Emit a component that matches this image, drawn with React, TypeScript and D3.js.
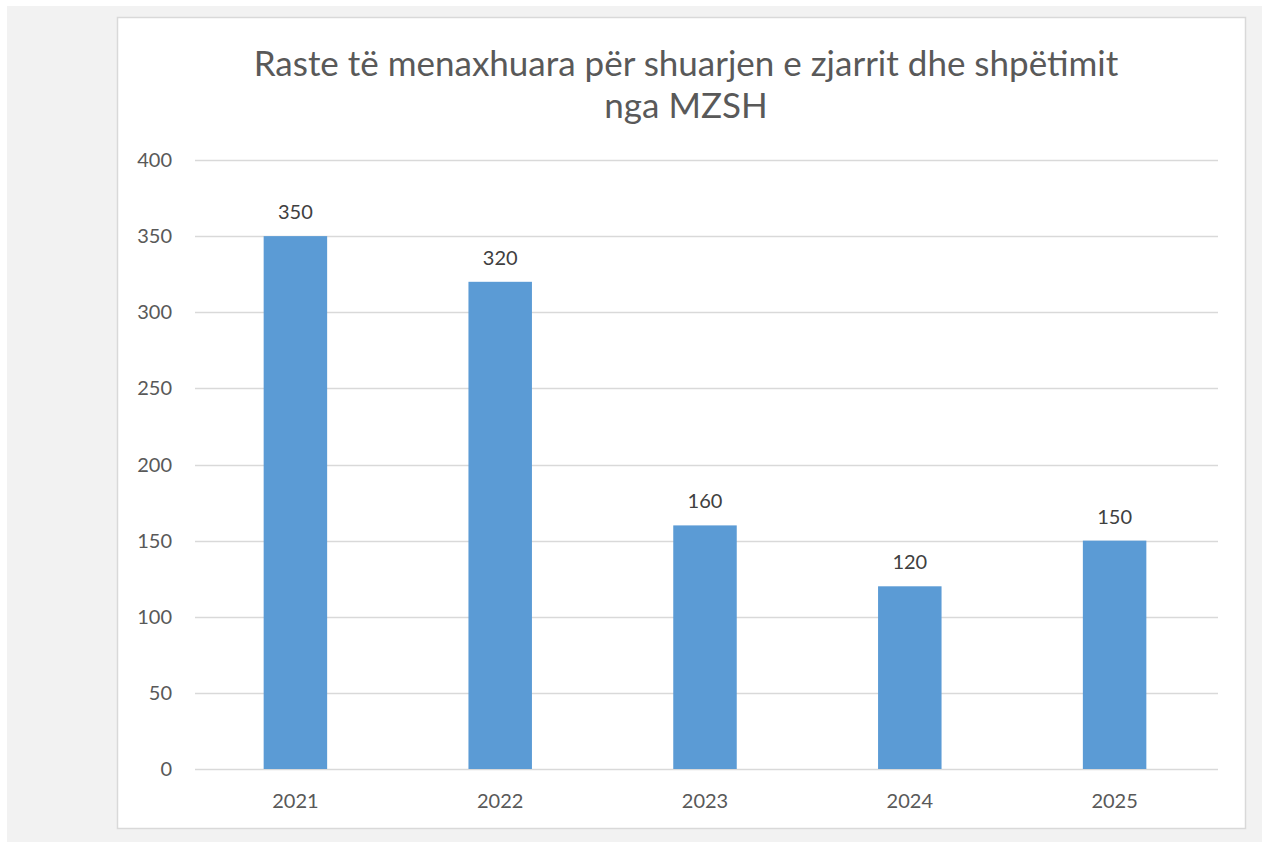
import { useEffect, useRef } from 'react'
import * as d3 from 'd3'

const years = ['2021', '2022', '2023', '2024', '2025']
const cases = [350, 320, 160, 120, 150]
const yTicks = [0, 50, 100, 150, 200, 250, 300, 350, 400]
const titleLines = ['Raste të menaxhuara për shuarjen e zjarrit dhe shpëtimit', 'nga MZSH']

export default function App() {
  const svgRef = useRef<SVGSVGElement>(null)
  const width = 1262
  const height = 842

  useEffect(() => {
    if (!svgRef.current) return
    const svg = d3.select(svgRef.current)
    svg.selectAll('*').remove()

    const font = 'Lato, "Open Sans", sans-serif'
    const textColor = '#595959'

    // page backdrop and chart area
    svg.append('rect')
      .attr('x', 7).attr('y', 6)
      .attr('width', width - 7).attr('height', height - 6)
      .attr('fill', '#f2f2f2')
    svg.append('rect')
      .attr('x', 117.5).attr('y', 17.5)
      .attr('width', 1128).attr('height', 811)
      .attr('fill', '#ffffff')
      .attr('stroke', '#d9d9d9')
      .attr('stroke-width', 1.5)

    const plot = { left: 195, right: 1218, top: 160, bottom: 769 }

    const x = d3.scaleBand()
      .domain(years)
      .range([plot.left - 2, plot.right - 1])
      .paddingInner(0.69)
      .paddingOuter(0.345)

    const y = d3.scaleLinear()
      .domain([0, 400])
      .range([plot.bottom, plot.top])

    // Title
    svg.append('text')
      .attr('x', 686)
      .attr('y', 76)
      .attr('text-anchor', 'middle')
      .style('font-family', font)
      .style('font-size', '35px')
      .style('fill', textColor)
      .selectAll('tspan')
      .data(titleLines)
      .enter().append('tspan')
      .attr('x', 686)
      .attr('dy', (d, i) => (i === 0 ? 0 : 42))
      .text(d => d)

    // Gridlines
    svg.append('g')
      .selectAll('line')
      .data(yTicks)
      .enter().append('line')
      .attr('x1', plot.left)
      .attr('x2', plot.right)
      .attr('y1', d => Math.round(y(d)) + 0.5)
      .attr('y2', d => Math.round(y(d)) + 0.5)
      .attr('stroke', '#d9d9d9')
      .attr('stroke-width', 1.5)

    // Y labels
    svg.append('g')
      .selectAll('text')
      .data(yTicks)
      .enter().append('text')
      .attr('x', 172)
      .attr('y', d => y(d))
      .attr('dy', '0.35em')
      .attr('text-anchor', 'end')
      .style('font-family', font)
      .style('font-size', '20px')
      .style('fill', textColor)
      .text(d => d)

    // Bars
    svg.append('g')
      .selectAll('rect')
      .data(cases)
      .enter().append('rect')
      .attr('x', (d, i) => x(years[i]) || 0)
      .attr('width', x.bandwidth())
      .attr('y', d => y(d))
      .attr('height', d => plot.bottom - y(d))
      .attr('fill', '#5b9bd5')

    // Value labels
    svg.append('g')
      .selectAll('text')
      .data(cases)
      .enter().append('text')
      .attr('x', (d, i) => (x(years[i]) || 0) + x.bandwidth() / 2)
      .attr('y', d => y(d) - 17)
      .attr('text-anchor', 'middle')
      .style('font-family', font)
      .style('font-size', '20px')
      .style('fill', '#404040')
      .text(d => d)

    // Category labels
    svg.append('g')
      .selectAll('text')
      .data(years)
      .enter().append('text')
      .attr('x', d => (x(d) || 0) + x.bandwidth() / 2)
      .attr('y', 801)
      .attr('dy', '0.35em')
      .attr('text-anchor', 'middle')
      .style('font-family', font)
      .style('font-size', '20px')
      .style('fill', textColor)
      .text(d => d)
  }, [])

  return (
    <svg
      ref={svgRef}
      width={width}
      height={height}
      style={{ position: 'absolute', left: 0, top: 0, display: 'block' }}
    />
  )
}
